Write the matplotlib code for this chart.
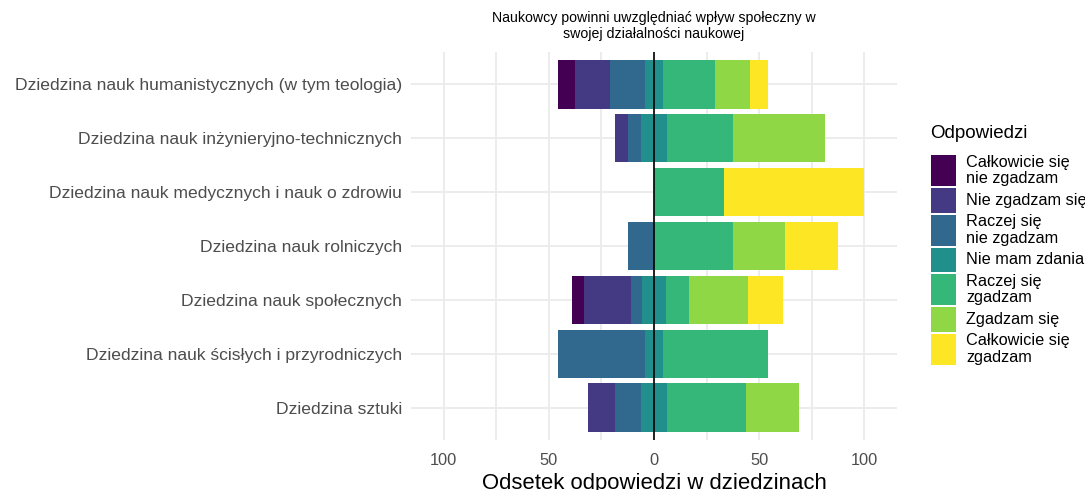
import matplotlib
matplotlib.use("Agg")
import matplotlib.pyplot as plt
from matplotlib.patches import Rectangle
import numpy as np

plt.rcParams['font.family'] = ['Liberation Sans', 'DejaVu Sans']

# data: share of answers (%) per field
fields = ['Dziedzina nauk humanistycznych (w tym teologia)',
          'Dziedzina nauk inżynieryjno-technicznych',
          'Dziedzina nauk medycznych i nauk o zdrowiu',
          'Dziedzina nauk rolniczych',
          'Dziedzina nauk społecznych',
          'Dziedzina nauk ścisłych i przyrodniczych',
          'Dziedzina sztuki']
answers = ['Całkowicie się\nnie zgadzam', 'Nie zgadzam się', 'Raczej się\nnie zgadzam',
           'Nie mam zdania', 'Raczej się\nzgadzam', 'Zgadzam się', 'Całkowicie się\nzgadzam']
calk_nie = [8.33, 0, 0, 0, 5.56, 0, 0]
nie = [16.67, 6.25, 0, 0, 22.22, 0, 12.5]
raczej_nie = [16.67, 6.25, 0, 12.5, 5.56, 41.67, 12.5]
neutral = [8.33, 12.5, 0, 0, 11.11, 8.33, 12.5]
raczej_tak = [25.0, 31.25, 33.33, 37.5, 11.11, 50.0, 37.5]
tak = [16.67, 43.75, 0, 25.0, 27.78, 0, 25.0]
calk_tak = [8.33, 0, 66.67, 25.0, 16.67, 0, 0]

colors = ['#440154', '#443A83', '#31688E', '#21908C', '#35B779', '#8FD744', '#FDE725']

fig = plt.figure(figsize=(10.85, 4.9), dpi=100)
ax = fig.add_axes([411/1085, 1 - 440/490, 486/1085, 388/490])

y = np.arange(len(fields))[::-1] + 1
h = 0.9
half = np.array(neutral) / 2

# negative side, from centre outwards
left = -half
ax.barh(y, half, left=left, height=h, color=colors[3], linewidth=0)
for vals, c in [(raczej_nie, colors[2]), (nie, colors[1]), (calk_nie, colors[0])]:
    vals = np.array(vals)
    left = left - vals
    ax.barh(y, vals, left=left, height=h, color=c, linewidth=0)

# positive side
left = np.zeros(len(fields))
ax.barh(y, half, left=left, height=h, color=colors[3], linewidth=0)
left = left + half
for vals, c in [(raczej_tak, colors[4]), (tak, colors[5]), (calk_tak, colors[6])]:
    vals = np.array(vals)
    ax.barh(y, vals, left=left, height=h, color=c, linewidth=0)
    left = left + vals

ax.axvline(0, color='black', lw=1.2, zorder=3)

ax.set_xlim(-115.5, 115.5)
ax.set_ylim(0.4, len(fields) + 0.6)
ax.set_xticks([-100, -50, 0, 50, 100])
ax.set_xticklabels(['100', '50', '0', '50', '100'])
ax.set_xticks([-75, -25, 25, 75], minor=True)
ax.set_yticks(y)
ax.set_yticklabels(fields)
ax.grid(True, which='both', color='#EBEBEB', lw=1.3)
ax.set_axisbelow(True)
for s in ax.spines.values():
    s.set_visible(False)
ax.tick_params(which='both', length=0)
ax.tick_params(axis='y', labelsize=12.6, labelcolor='#4D4D4D', pad=6.5)
ax.tick_params(axis='x', labelsize=11.8, labelcolor='#4D4D4D', pad=9)
ax.set_xlabel('Odsetek odpowiedzi w dziedzinach', fontsize=15.9, labelpad=4)
ax.set_title('Naukowcy powinni uwzględniać wpływ społeczny w\nswojej działalności naukowej',
             fontsize=10.2, pad=10, linespacing=1.15)

# legend drawn in pixel coordinates, ggplot style (key height follows label lines)
lg = fig.add_axes([0, 0, 1, 1])
lg.set_xlim(0, 1085)
lg.set_ylim(490, 0)
lg.axis('off')
lg.text(930, 133, 'Odpowiedzi', fontsize=13.5, va='center', ha='left')
top = 155
for lab, c in zip(answers, colors):
    kh = 31 if '\n' in lab else 24.5
    lg.add_patch(Rectangle((931, top), 25, kh, color=c, lw=0))
    lg.text(966, top + kh / 2, lab, fontsize=11.7, va='center', ha='left', linespacing=1.12)
    top += kh + 2

fig.savefig('out.png', dpi=100)
